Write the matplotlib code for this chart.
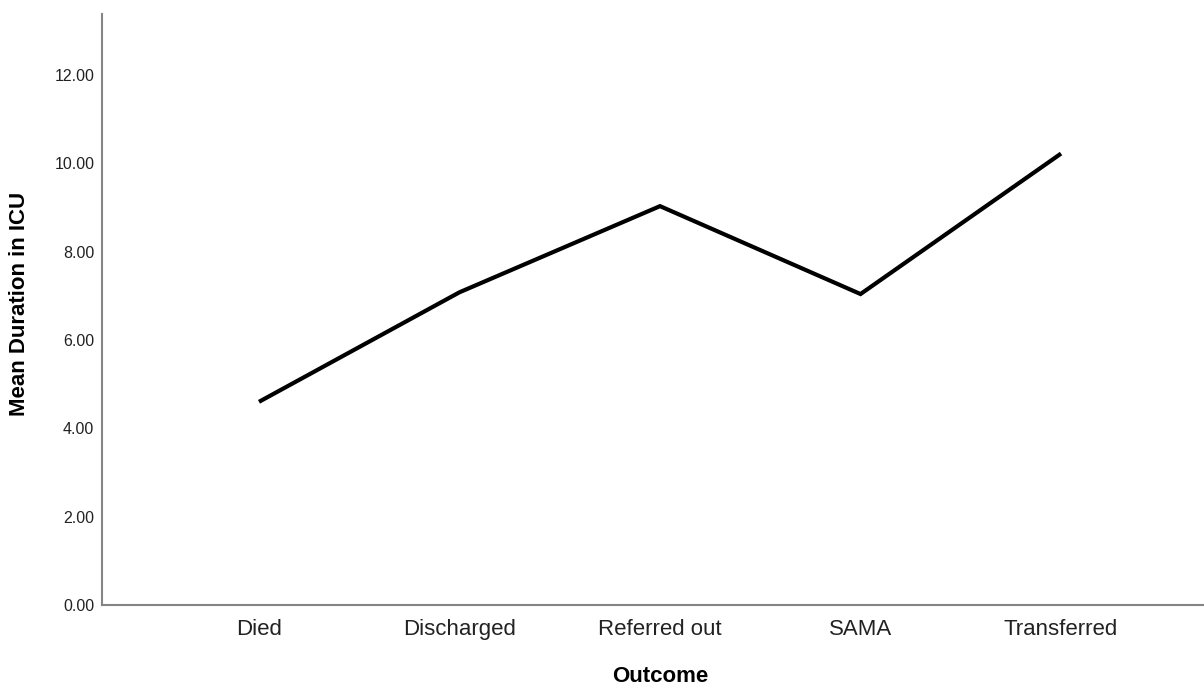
import matplotlib
matplotlib.use("Agg")
import matplotlib.pyplot as plt

categories = ["Died", "Discharged", "Referred out", "SAMA", "Transferred"]
mean_duration = [4.60, 7.08, 9.03, 7.04, 10.22]
y_ticks = [0, 2, 4, 6, 8, 10, 12]

plt.rcParams['font.family'] = ['Liberation Sans', 'DejaVu Sans']

fig = plt.figure(figsize=(12.04, 6.86), dpi=100)
ax = fig.add_axes([102/1204, 81/686, 1 - 102/1204, (605-14)/686])

x = list(range(len(categories)))
ax.plot(x, mean_duration, color='black', lw=3.0, solid_capstyle='butt', solid_joinstyle='miter')

ax.set_xlim(-0.783, 4.713)
ax.set_ylim(0, 13.38)
ax.set_yticks(y_ticks)
ax.set_yticklabels([f"{v:.2f}" for v in y_ticks], fontsize=11.5, color='#222222')
ax.set_xticks(x)
ax.set_xticklabels(categories, fontsize=16, color='#222222')
ax.tick_params(axis='both', length=0)
ax.tick_params(axis='y', pad=5.5)
ax.tick_params(axis='x', pad=10)

for s in ['top', 'right']:
    ax.spines[s].set_visible(False)
for s in ['left', 'bottom']:
    ax.spines[s].set_color('#858585')
    ax.spines[s].set_linewidth(1.5)

fig.text(660/1204, 1 - 677/686, "Outcome", fontsize=16, fontweight='bold', ha='center', va='center')
fig.text(20/1204, 1 - 304/686, "Mean Duration in ICU", fontsize=16, fontweight='bold',
         ha='center', va='center', rotation=90)

fig.savefig("out.png", dpi=100)
